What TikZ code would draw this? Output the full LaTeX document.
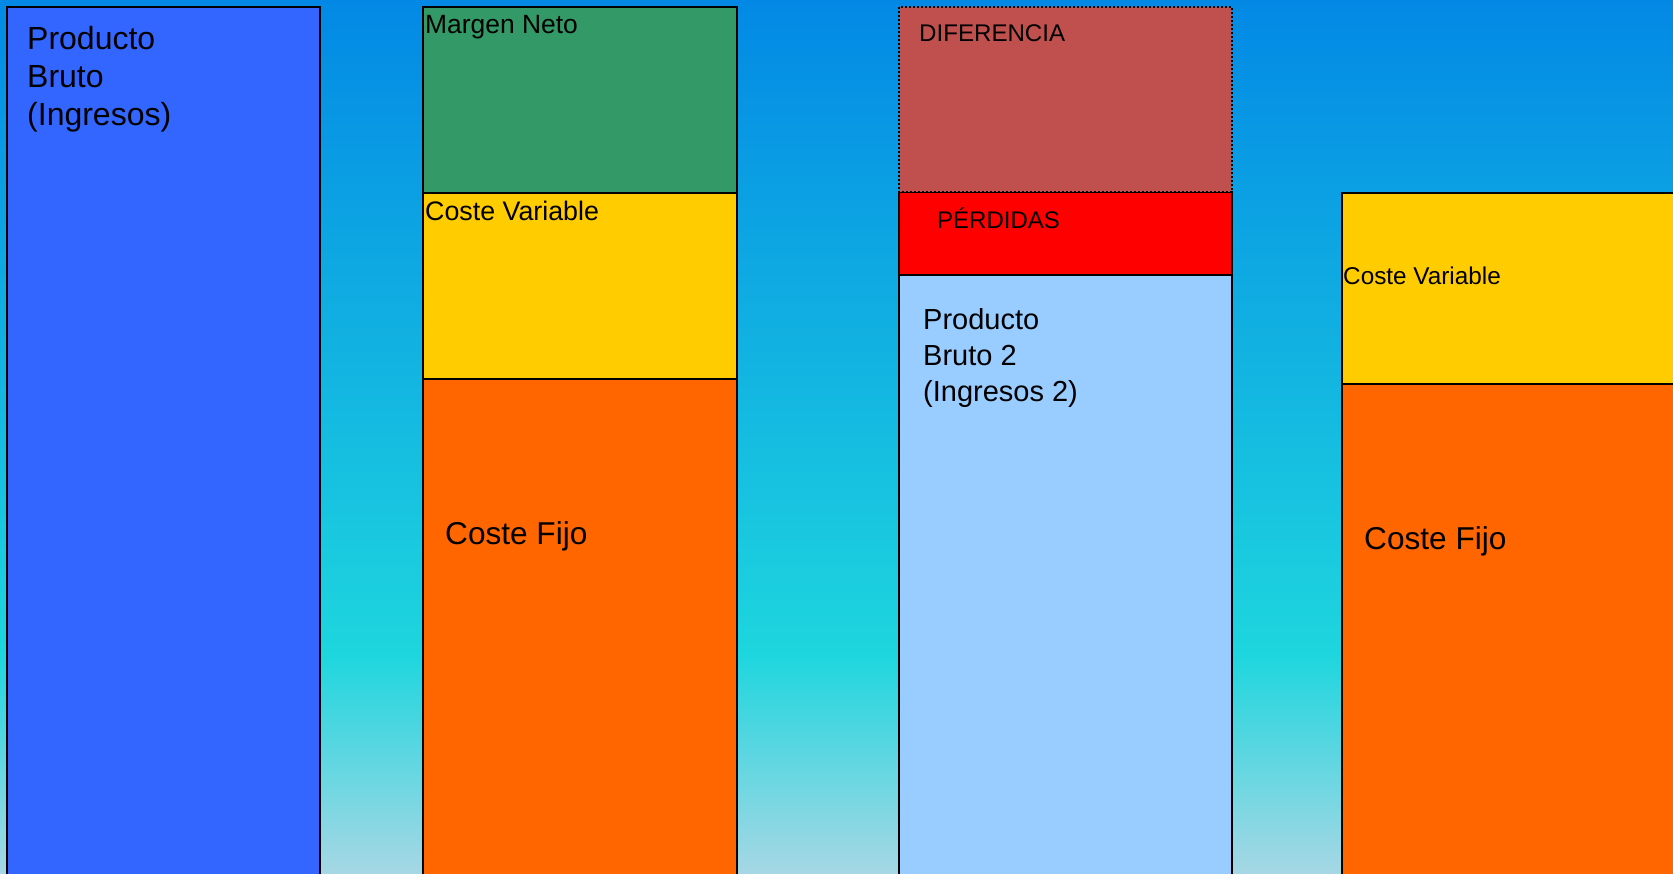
\documentclass[tikz,border=0pt]{standalone}
\usepackage{fontspec}
\setmainfont{Liberation Sans}
\definecolor{bgtop}{RGB}{3,137,229}
\definecolor{bgmid}{RGB}{30,214,222}
\definecolor{bgbot}{RGB}{166,215,228}
\definecolor{cblue}{HTML}{3366FF}
\definecolor{cgreen}{HTML}{339966}
\definecolor{cyellow}{HTML}{FFCC00}
\definecolor{corange}{HTML}{FF6600}
\definecolor{cdiff}{HTML}{C0504D}
\definecolor{cred}{HTML}{FF0000}
\definecolor{clight}{HTML}{99CCFF}
\pgfdeclareverticalshading{bgshade}{100bp}{color(0bp)=(bgbot); color(25bp)=(bgbot); color(37.5bp)=(bgmid); color(75bp)=(bgtop); color(100bp)=(bgtop)}
\begin{document}
\begin{tikzpicture}[x=1pt,y=-1pt,
  bar/.style={draw=black, line width=2.8pt, inner sep=0pt, outer sep=0pt},
  dotbar/.style={draw=black, line width=2pt, dash pattern=on 2pt off 2pt, inner sep=0pt, outer sep=0pt},
  lbl/.style={inner sep=0pt, anchor=base west, text=black},
  lblml/.style={inner sep=0pt, anchor=north west, align=left, text=black}]
\useasboundingbox (0,0) rectangle (1673,873);
\begin{scope}
\clip (0,0) rectangle (1673,873);
\shade[shading=bgshade] (0,0) rectangle (1673,873);
% column 1
\path[bar, fill=cblue] (7,7) rectangle (320,890);
% column 2
\path[bar, fill=corange] (423,379) rectangle (737,890);
\path[bar, fill=cyellow] (423,193) rectangle (737,379);
\path[bar, fill=cgreen] (423,7) rectangle (737,193);
% column 3
\path[bar, fill=clight] (899,275) rectangle (1232,890);
\path[bar, fill=cred] (899,192) rectangle (1232,275);
\path[dotbar, fill=cdiff] (899,7) rectangle (1232,192);
% column 4
\path[bar, fill=corange] (1342,384) rectangle (1690,890);
\path[bar, fill=cyellow] (1342,193) rectangle (1690,384);
\end{scope}
% labels
\node[lblml, font=\fontsize{32}{38}\selectfont] (tpb) at (27,26) {Producto\\Bruto\\(Ingresos)};
\node[lbl, font=\fontsize{26.4}{30}\selectfont] (tmn) at (425,33) {Margen Neto};
\node[lbl, font=\fontsize{26.8}{30}\selectfont] (tcv) at (425,220) {Coste Variable};
\node[lbl, font=\fontsize{31.6}{36}\selectfont] (tcf) at (445,544) {Coste Fijo};
\node[lbl, font=\fontsize{24.1}{30}\selectfont] (tdif) at (919,41) {DIFERENCIA};
\node[lbl, font=\fontsize{24}{30}\selectfont] (tper) at (937,228) {PÉRDIDAS};
\node[lblml, font=\fontsize{29}{36}\selectfont] (tpb2) at (923,308) {Producto\\Bruto 2\\(Ingresos 2)};
\node[lbl, font=\fontsize{24.3}{30}\selectfont] (tcv2) at (1343,284) {Coste Variable};
\node[lbl, font=\fontsize{31.6}{36}\selectfont] (tcf2) at (1364,549) {Coste Fijo};
\end{tikzpicture}
\end{document}
